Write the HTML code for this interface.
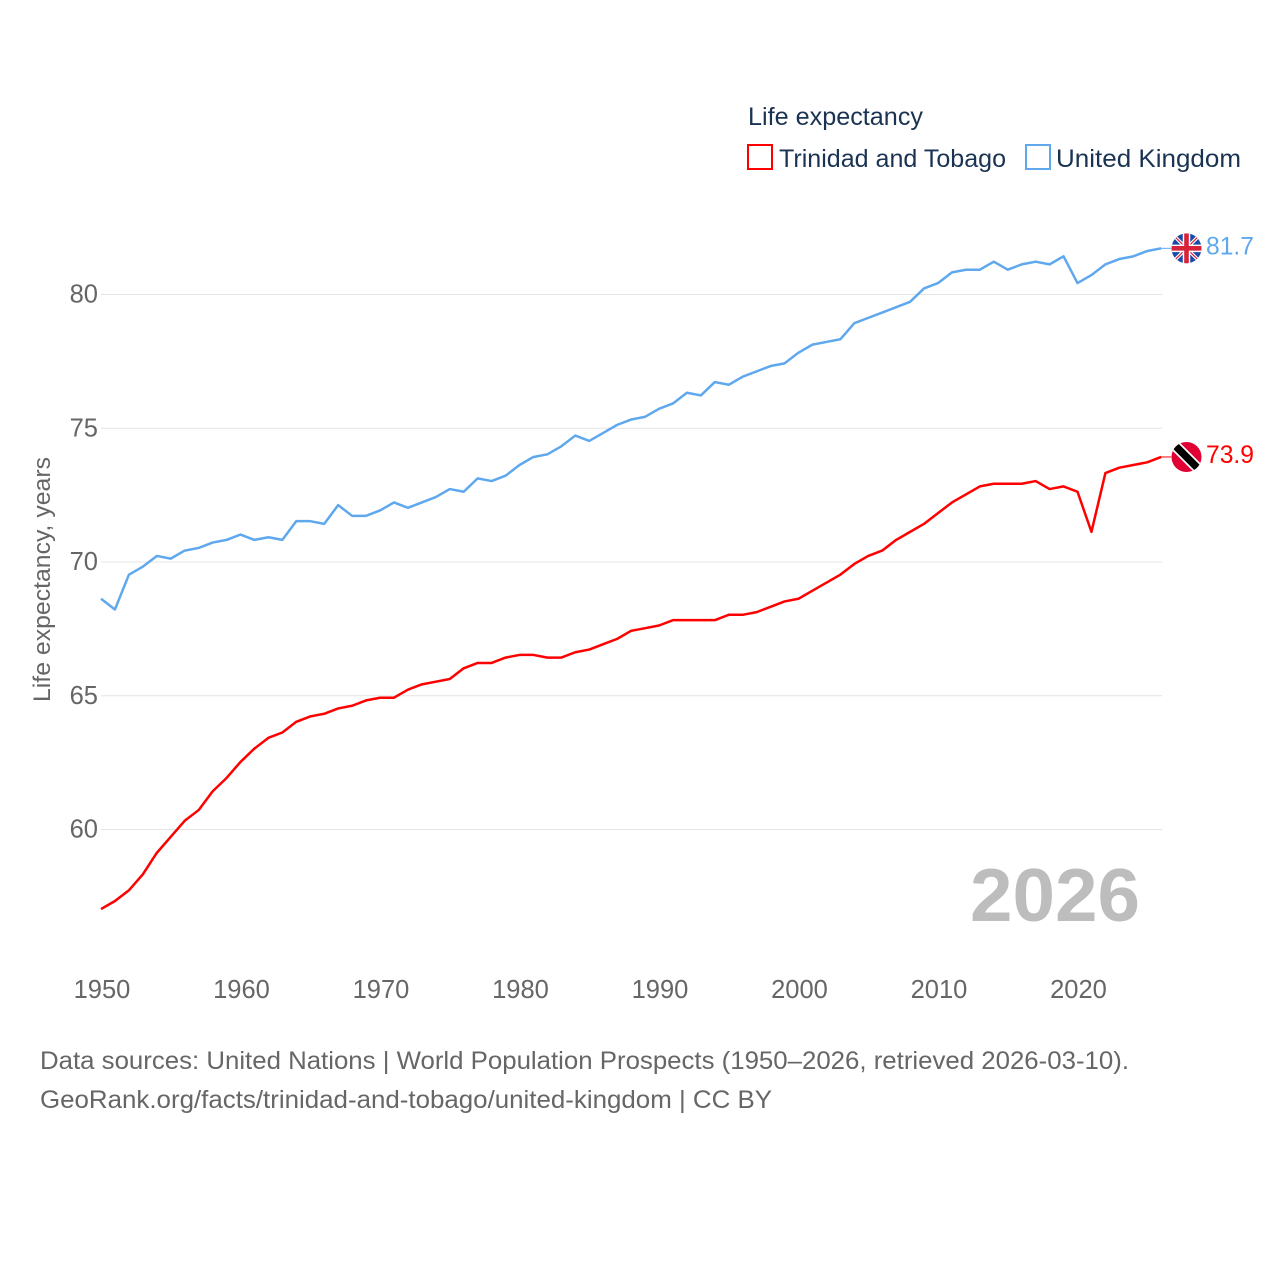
<!DOCTYPE html>
<html lang="en">
<head>
<meta charset="utf-8">
<title>Life expectancy: Trinidad and Tobago vs United Kingdom</title>
<style>
html,body{margin:0;padding:0;background:#fff;width:1280px;height:1280px;overflow:hidden}
svg{display:block}
text{font-family:"Liberation Sans",sans-serif}
</style>
</head>
<body>
<svg id="chart" xmlns="http://www.w3.org/2000/svg" width="1280" height="1280" viewBox="0 0 1280 1280">
  <defs>
    <clipPath id="flag-clip-uk"><circle cx="0" cy="0" r="15"/></clipPath>
    <clipPath id="flag-clip-tt"><circle cx="0" cy="0" r="15"/></clipPath>
  </defs>
  <g id="grid"></g>
  <g id="yticks"></g>
  <g id="xticks"></g>
  <text transform="translate(50,702) rotate(-90)" font-size="24" fill="#666666" textLength="245" lengthAdjust="spacingAndGlyphs">Life expectancy, years</text>
  <text x="970" y="921" font-size="75" font-weight="bold" fill="#bdbdbd" textLength="170" lengthAdjust="spacingAndGlyphs">2026</text>
  <g id="series"></g>
  <g>
    <text x="748" y="125" font-size="25" fill="#1a3352" textLength="175" lengthAdjust="spacingAndGlyphs">Life expectancy</text>
    <rect x="748" y="145" width="24" height="24" fill="#fff" stroke="#ff0000" stroke-width="2"/>
    <text x="779" y="167" font-size="25" fill="#1a3352" textLength="227" lengthAdjust="spacingAndGlyphs">Trinidad and Tobago</text>
    <rect x="1026" y="145" width="24" height="24" fill="#fff" stroke="#5fa8ee" stroke-width="2"/>
    <text x="1056" y="167" font-size="25" fill="#1a3352" textLength="185" lengthAdjust="spacingAndGlyphs">United Kingdom</text>
  </g>
  <g>
    <text x="40" y="1069" font-size="25" fill="#666666" textLength="1089" lengthAdjust="spacingAndGlyphs">Data sources: United Nations | World Population Prospects (1950–2026, retrieved 2026-03-10).</text>
    <text x="40" y="1108" font-size="25" fill="#666666" textLength="732" lengthAdjust="spacingAndGlyphs">GeoRank.org/facts/trinidad-and-tobago/united-kingdom | CC BY</text>
  </g>
</svg>
<script>
const startYear = 1950;
const yTickValues = [60, 65, 70, 75, 80];
const xTickValues = [1950, 1960, 1970, 1980, 1990, 2000, 2010, 2020];
const ukValues = [68.6,68.2,69.5,69.8,70.2,70.1,70.4,70.5,70.7,70.8,71.0,70.8,70.9,70.8,71.5,71.5,71.4,72.1,71.7,71.7,71.9,72.2,72.0,72.2,72.4,72.7,72.6,73.1,73.0,73.2,73.6,73.9,74.0,74.3,74.7,74.5,74.8,75.1,75.3,75.4,75.7,75.9,76.3,76.2,76.7,76.6,76.9,77.1,77.3,77.4,77.8,78.1,78.2,78.3,78.9,79.1,79.3,79.5,79.7,80.2,80.4,80.8,80.9,80.9,81.2,80.9,81.1,81.2,81.1,81.4,80.4,80.7,81.1,81.3,81.4,81.6,81.7];
const ttValues = [57.0,57.3,57.7,58.3,59.1,59.7,60.3,60.7,61.4,61.9,62.5,63.0,63.4,63.6,64.0,64.2,64.3,64.5,64.6,64.8,64.9,64.9,65.2,65.4,65.5,65.6,66.0,66.2,66.2,66.4,66.5,66.5,66.4,66.4,66.6,66.7,66.9,67.1,67.4,67.5,67.6,67.8,67.8,67.8,67.8,68.0,68.0,68.1,68.3,68.5,68.6,68.9,69.2,69.5,69.9,70.2,70.4,70.8,71.1,71.4,71.8,72.2,72.5,72.8,72.9,72.9,72.9,73.0,72.7,72.8,72.6,71.1,73.3,73.5,73.6,73.7,73.9];

const NS = 'http://www.w3.org/2000/svg';
const xScale = function (year) { return 101 + (year - 1950) * 13.95; };
const yScale = function (v) { return 294.5 + (80 - v) * 26.75; };
const LINE_DY = -0.7;
const PLOT_LEFT = 101;
const PLOT_RIGHT = 1162;

function make(tag, attrs, parent) {
  const el = document.createElementNS(NS, tag);
  Object.keys(attrs).forEach(function (k) { el.setAttribute(k, attrs[k]); });
  parent.appendChild(el);
  return el;
}

const gridG = document.getElementById('grid');
const yG = document.getElementById('yticks');
const xG = document.getElementById('xticks');
const seriesG = document.getElementById('series');

yTickValues.forEach(function (v) {
  const line = make('line', {x1: PLOT_LEFT, x2: PLOT_RIGHT, y1: yScale(v), y2: yScale(v), stroke: '#e4e4e4', 'stroke-width': 1}, gridG);
  
  
  const t = make('text', {x: 98, y: yScale(v) + 8, 'text-anchor': 'end', 'font-size': 25.5, fill: '#666666'}, yG);
  t.textContent = String(v);
  
  
});

xTickValues.forEach(function (y) {
  const t = make('text', {x: xScale(y) + 1, y: 998, 'text-anchor': 'middle', 'font-size': 25.5, fill: '#666666'}, xG);
  t.textContent = String(y);
  
  
});

function drawSeries(values, color, name) {
  const group = make('g', {}, seriesG);
  
  
  const pts = values.map(function (v, i) {
    return xScale(startYear + i).toFixed(2) + ',' + (yScale(v) + LINE_DY).toFixed(2);
  }).join(' ');
  const line = make('polyline', {points: pts, fill: 'none', stroke: color, 'stroke-width': 2.5, 'stroke-linejoin': 'round'}, group);
  
  
  const lastV = values[values.length - 1];
  const lastX = xScale(startYear + values.length - 1);
  const lastY = yScale(lastV) + LINE_DY;
  const tail = make('line', {x1: lastX, x2: lastX + 10, y1: lastY, y2: lastY, stroke: color, 'stroke-width': 1}, group);
  
  
  const label = make('text', {x: 1206, y: lastY + 6, 'font-size': 25, fill: color, textLength: 48, lengthAdjust: 'spacingAndGlyphs'}, group);
  label.textContent = lastV.toFixed(1);
  
  
  return make('g', {transform: 'translate(1186.5,' + lastY + ')'}, group);
}

const ukFlag = drawSeries(ukValues, '#5fa8ee', 'united-kingdom');


ukFlag.setAttribute('clip-path', 'url(#flag-clip-uk)');
make('rect', {x: -15, y: -15, width: 30, height: 30, fill: '#1a4aa6'}, ukFlag);
make('path', {d: 'M-15,-15 L15,15 M15,-15 L-15,15', stroke: '#ffffff', 'stroke-width': 3.5, fill: 'none'}, ukFlag);
make('path', {d: 'M-15,-15 L15,15 M15,-15 L-15,15', stroke: '#d8213a', 'stroke-width': 1.2, fill: 'none'}, ukFlag);
make('path', {d: 'M0,-15 V15 M-15,0 H15', stroke: '#ffffff', 'stroke-width': 7.5, fill: 'none'}, ukFlag);
make('path', {d: 'M0,-15 V15 M-15,0 H15', stroke: '#d8213a', 'stroke-width': 4.6, fill: 'none'}, ukFlag);

const ttFlag = drawSeries(ttValues, '#ff0000', 'trinidad-and-tobago');


ttFlag.setAttribute('clip-path', 'url(#flag-clip-tt)');
make('rect', {x: -15, y: -15, width: 30, height: 30, fill: '#e00034'}, ttFlag);
make('path', {d: 'M-15,-15 L15,15', stroke: '#ffffff', 'stroke-width': 11, fill: 'none'}, ttFlag);
make('path', {d: 'M-15,-15 L15,15', stroke: '#000000', 'stroke-width': 7.5, fill: 'none'}, ttFlag);
</script>
</body>
</html>
